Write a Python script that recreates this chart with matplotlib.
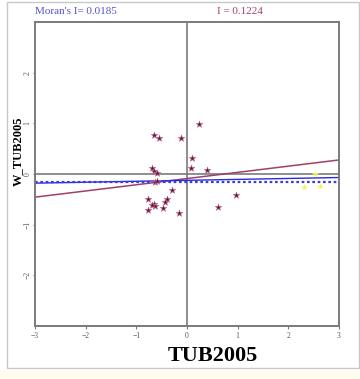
import matplotlib
matplotlib.use("Agg")
import matplotlib.pyplot as plt
import numpy as np
from matplotlib.patches import Rectangle

# Data
x_main = [0.23, -0.65, -0.55, -0.12, 0.10, 0.07, 0.40, -0.69, -0.66, -0.59,
          -0.63, -0.59, -0.30, -0.76, -0.40, -0.44, -0.66, -0.63, -0.70, -0.47,
          -0.77, -0.15, 0.62, 0.97]
y_main = [0.98, 0.76, 0.71, 0.71, 0.32, 0.12, 0.07, 0.12, 0.06, 0.02,
          -0.15, -0.14, -0.32, -0.50, -0.50, -0.55, -0.60, -0.63, -0.61, -0.67,
          -0.72, -0.77, -0.66, -0.42]
x_sel = [2.53, 2.31, 2.63]
y_sel = [0.00, -0.26, -0.23]

moran_all = 0.0185
moran_sel = 0.1224
intercept_all = -0.125
intercept_sel = -0.09
intercept_dot = -0.15

xlim = (-3, 3)
ylim = (-3, 3)
xticks = [-3, -2, -1, 0, 1, 2, 3]
yticks = [-2, -1, 0, 1, 2]

fig = plt.figure(figsize=(3.6, 3.79), dpi=100)
fig.patch.set_facecolor("white")
fig.patches.append(Rectangle((7/360, 1 - 368/379), 352/360, 366/379,
                             transform=fig.transFigure, fill=False,
                             edgecolor="#c8c8c8", linewidth=1.0))
fig.patches.append(Rectangle((0, 0), 1, 9/379, transform=fig.transFigure,
                             facecolor="#fdfcef", edgecolor="none"))

ax = fig.add_axes([35/360, 1 - 326/379, 304/360, 304/379])
ax.set_xlim(*xlim)
ax.set_ylim(*ylim)
for s in ax.spines.values():
    s.set_color("#7a7a7a")
    s.set_linewidth(1.4)

ax.axvline(0, color="#7a7a7a", lw=1.2, zorder=1)
ax.axhline(0, color="#7a7a7a", lw=1.2, zorder=1)

xs = np.array(xlim)
ax.plot(xs, moran_sel * xs + intercept_sel, color="#a0406a", lw=1.1, zorder=2)
ax.plot(xs, moran_all * xs + intercept_all, color="#2a2ae0", lw=1.0, zorder=2)
ax.plot(xs, 0 * xs + intercept_dot, color="#3a3ae8", lw=1.6,
        linestyle=(0, (1.2, 1.2)), zorder=2)

ax.scatter(x_main, y_main, marker="*", s=26, color="#6e0c3c",
           edgecolors="#b87898", linewidths=0.4, zorder=3)
ax.scatter(x_sel, y_sel, marker="*", s=22, color="#f2f240",
           edgecolors="#f8f8a0", linewidths=0.3, zorder=3)

ax.set_xticks(xticks)
ax.set_yticks(yticks)
ax.tick_params(axis="x", length=2.5, width=0.8, color="#7a7a7a",
               labelsize=5.5, labelcolor="#555555", pad=1.5)
ax.tick_params(axis="y", length=1.5, width=0.8, color="#7a7a7a",
               labelsize=5.5, labelcolor="#555555", pad=1)
for lab in ax.get_xticklabels() + ax.get_yticklabels():
    lab.set_family("Liberation Serif")
for lab in ax.get_yticklabels():
    lab.set_rotation(90)
    lab.set_va("center")

xl = ax.set_xlabel("TUB2005", fontsize=16, fontweight="bold",
                   family="Liberation Serif")
xl.set_va("center")
yl = ax.set_ylabel("W_TUB2005", fontsize=9, fontweight="bold",
                   family="Liberation Serif")
yl.set_va("center")
yl.set_ha("center")
ax.yaxis.set_label_coords((18 - 35) / 304, (326 - 151) / 304)
ax.xaxis.set_label_coords((213 - 35) / 304, (326 - 356) / 304)

fig.text(35/360, 1 - 12/379, "Moran's I= 0.0185", color="#5252d0",
         fontsize=8, family="Liberation Serif", va="center", ha="left")
fig.text(217/360, 1 - 12/379, "I = 0.1224", color="#a04070",
         fontsize=8, family="Liberation Serif", va="center", ha="left")

fig.savefig("out.png", dpi=100)
